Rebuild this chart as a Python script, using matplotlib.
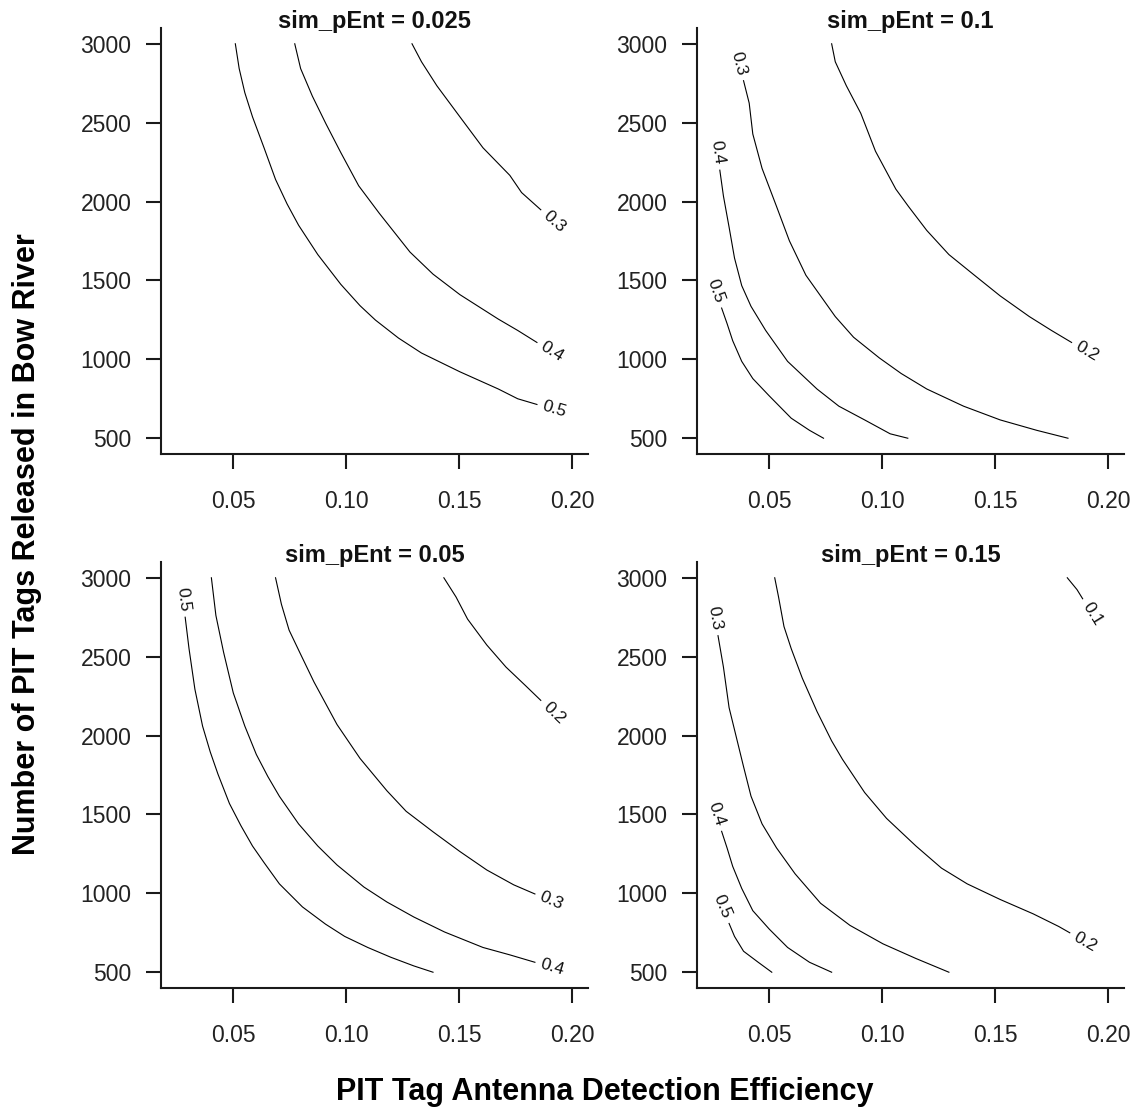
import numpy as np
import matplotlib
matplotlib.use("Agg")
from matplotlib import pyplot as plt

plt.rcParams['font.family'] = ['Liberation Sans', 'DejaVu Sans']

# panel titles in layout order: top-left, top-right, bottom-left, bottom-right
panel_titles = ["sim_pEnt = 0.025", "sim_pEnt = 0.1", "sim_pEnt = 0.05", "sim_pEnt = 0.15"]
x_ticks = [0.05, 0.10, 0.15, 0.20]
x_tick_labels = ["0.05", "0.10", "0.15", "0.20"]
y_ticks = [500, 1000, 1500, 2000, 2500, 3000]

# contour lines: level -> points
# sim_pEnt = 0.025
pent025_x = {
    0.5: [0.0509, 0.0526, 0.0551, 0.0585, 0.0636, 0.0687, 0.0738, 0.0789, 0.0874, 0.0976,
          0.1061, 0.1129, 0.1231, 0.1333, 0.1503, 0.1673, 0.1759, 0.1844],
    0.4: [0.0772, 0.0798, 0.0850, 0.0910, 0.0976, 0.1055, 0.1146, 0.1282, 0.1384, 0.1503,
          0.1673, 0.1759, 0.1844],
    0.3: [0.1291, 0.1333, 0.1401, 0.1503, 0.1605, 0.1724, 0.1776, 0.1861],
}
pent025_y = {
    0.5: [3000, 2843, 2690, 2537, 2341, 2140, 1985, 1850, 1664, 1475, 1340, 1249, 1135, 1040,
          921, 812, 750, 714],
    0.4: [3000, 2843, 2668, 2493, 2310, 2100, 1926, 1680, 1540, 1410, 1255, 1183, 1107],
    0.3: [3000, 2886, 2734, 2537, 2341, 2166, 2057, 1948],
}

# sim_pEnt = 0.1
pent01_x = {
    0.2: [0.0776, 0.0792, 0.0841, 0.0905, 0.0970, 0.1060, 0.1116, 0.1197, 0.1295, 0.1408,
          0.1522, 0.1651, 0.1749, 0.1838],
    0.3: [0.0386, 0.0411, 0.0427, 0.0468, 0.0532, 0.0589, 0.0662, 0.0727, 0.0792, 0.0873,
          0.0987, 0.1084, 0.1197, 0.1360, 0.1522, 0.1684, 0.1822],
    0.4: [0.0281, 0.0297, 0.0322, 0.0346, 0.0378, 0.0419, 0.0484, 0.0581, 0.0711, 0.0808,
          0.0922, 0.1035, 0.1113],
    0.5: [0.0289, 0.0313, 0.0338, 0.0378, 0.0427, 0.0500, 0.0597, 0.0678, 0.0740],
}
pent01_y = {
    0.2: [3000, 2886, 2734, 2559, 2319, 2079, 1969, 1817, 1664, 1533, 1402, 1271, 1183, 1107],
    0.3: [2766, 2624, 2428, 2210, 1969, 1751, 1533, 1402, 1271, 1140, 1009, 910, 812, 703,
          616, 550, 500],
    0.4: [2199, 2035, 1838, 1642, 1467, 1336, 1183, 987, 812, 703, 616, 528, 500],
    0.5: [1325, 1227, 1118, 987, 878, 768, 627, 550, 500],
}

# sim_pEnt = 0.05
pent005_x = {
    0.5: [0.0287, 0.0304, 0.0330, 0.0364, 0.0398, 0.0432, 0.0483, 0.0534, 0.0585, 0.0636,
          0.0704, 0.0806, 0.0908, 0.0993, 0.1095, 0.1197, 0.1299, 0.1384],
    0.4: [0.0403, 0.0423, 0.0457, 0.0500, 0.0551, 0.0602, 0.0653, 0.0704, 0.0789, 0.0874,
          0.0959, 0.1078, 0.1180, 0.1299, 0.1435, 0.1605, 0.1724, 0.1835],
    0.3: [0.0687, 0.0713, 0.0747, 0.0798, 0.0857, 0.0959, 0.1061, 0.1180, 0.1265, 0.1384,
          0.1503, 0.1622, 0.1741, 0.1835],
    0.2: [0.1432, 0.1486, 0.1537, 0.1622, 0.1707, 0.1793, 0.1861],
}
pent005_y = {
    0.5: [2750, 2551, 2294, 2060, 1896, 1756, 1569, 1428, 1300, 1195, 1060, 914, 805, 727,
          657, 595, 540, 500],
    0.4: [3000, 2761, 2528, 2270, 2060, 1880, 1740, 1615, 1440, 1300, 1180, 1040, 945, 850,
          755, 657, 610, 563],
    0.3: [3000, 2832, 2668, 2515, 2340, 2070, 1855, 1650, 1520, 1390, 1265, 1148, 1054, 996],
    0.2: [3000, 2878, 2738, 2574, 2434, 2317, 2223],
}

# sim_pEnt = 0.15
pent015_x = {
    0.1: [0.1819, 0.1862, 0.1887],
    0.2: [0.0524, 0.0541, 0.0565, 0.0597, 0.0646, 0.0711, 0.0776, 0.0824, 0.0922, 0.1019,
          0.1149, 0.1262, 0.1376, 0.1522, 0.1668, 0.1781, 0.1830],
    0.3: [0.0273, 0.0297, 0.0322, 0.0354, 0.0386, 0.0419, 0.0468, 0.0532, 0.0614, 0.0727,
          0.0857, 0.1003, 0.1149, 0.1295],
    0.4: [0.0289, 0.0313, 0.0338, 0.0378, 0.0427, 0.0500, 0.0581, 0.0678, 0.0776],
    0.5: [0.0322, 0.0346, 0.0386, 0.0451, 0.0511],
}
pent015_y = {
    0.1: [3000, 2925, 2867],
    0.2: [3000, 2878, 2691, 2551, 2364, 2153, 1966, 1849, 1639, 1475, 1300, 1160, 1060, 961,
          870, 790, 750],
    0.3: [2633, 2434, 2177, 1990, 1803, 1616, 1440, 1288, 1124, 937, 797, 680, 587, 500],
    0.4: [1393, 1288, 1171, 1031, 890, 773, 657, 563, 500],
    0.5: [809, 727, 633, 563, 500],
}

panel_x = [pent025_x, pent01_x, pent005_x, pent015_x]
panel_y = [pent025_y, pent01_y, pent005_y, pent015_y]

W, H = 1133, 1111
fig = plt.figure(figsize=(W / 100, H / 100), dpi=100)

# axes boxes in pixels: left, top
boxes = [(161, 28), (697, 28), (161, 562), (697, 562)]
bw, bh = 427, 426
ink = "#1a1a1a"

for i, (bx, by) in enumerate(boxes):
    ax = fig.add_axes([bx / W, 1 - (by + bh) / H, bw / W, bh / H])
    ax.set_xlim(0.018, 0.207)
    ax.set_ylim(400, 3100)
    for s in ["top", "right"]:
        ax.spines[s].set_visible(False)
    for s in ["left", "bottom"]:
        ax.spines[s].set_linewidth(1.5)
        ax.spines[s].set_color(ink)
    ax.set_xticks(x_ticks)
    ax.set_xticklabels(x_tick_labels)
    ax.set_yticks(y_ticks)
    ax.tick_params(length=10.8, width=1.5, color=ink, labelsize=16.5, labelcolor="#222222")
    ax.tick_params(axis="x", pad=15)
    ax.tick_params(axis="y", pad=10.5)
    # panel strip title, baseline just on the top of the panel
    ax.text(0.5, 1.0, panel_titles[i], transform=ax.transAxes, ha="center", va="baseline",
            fontsize=17, fontweight="bold", color="#111111")

    for lev, xs in panel_x[i].items():
        ys = panel_y[i][lev]
        ax.plot(xs, ys, color="black", lw=0.8)
        # label sits beyond the open end of the line
        if ys[0] < 3000:
            a, b = (xs[1], ys[1]), (xs[0], ys[0])
        else:
            a, b = (xs[-2], ys[-2]), (xs[-1], ys[-1])
        p0 = ax.transData.transform(a)
        p1 = ax.transData.transform(b)
        d = p1 - p0
        u = d / np.hypot(d[0], d[1])
        ang = np.degrees(np.arctan2(u[1], u[0]))
        if ang > 90:
            ang -= 180
        elif ang < -90:
            ang += 180
        off = 13
        ax.annotate(f"{lev:g}", b, xytext=(u[0] * off, u[1] * off), textcoords="offset points",
                    rotation=ang, rotation_mode="anchor", ha="center", va="center",
                    fontsize=12.5, color="#111111")

fig.text(27 / W, 1 - 544 / H, "Number of PIT Tags Released in Bow River", rotation=90,
         ha="center", va="center", fontsize=22, fontweight="bold")
fig.text(605 / W, 1 - 1092 / H, "PIT Tag Antenna Detection Efficiency",
         ha="center", va="center", fontsize=22, fontweight="bold")

fig.savefig("out.png", dpi=100)
